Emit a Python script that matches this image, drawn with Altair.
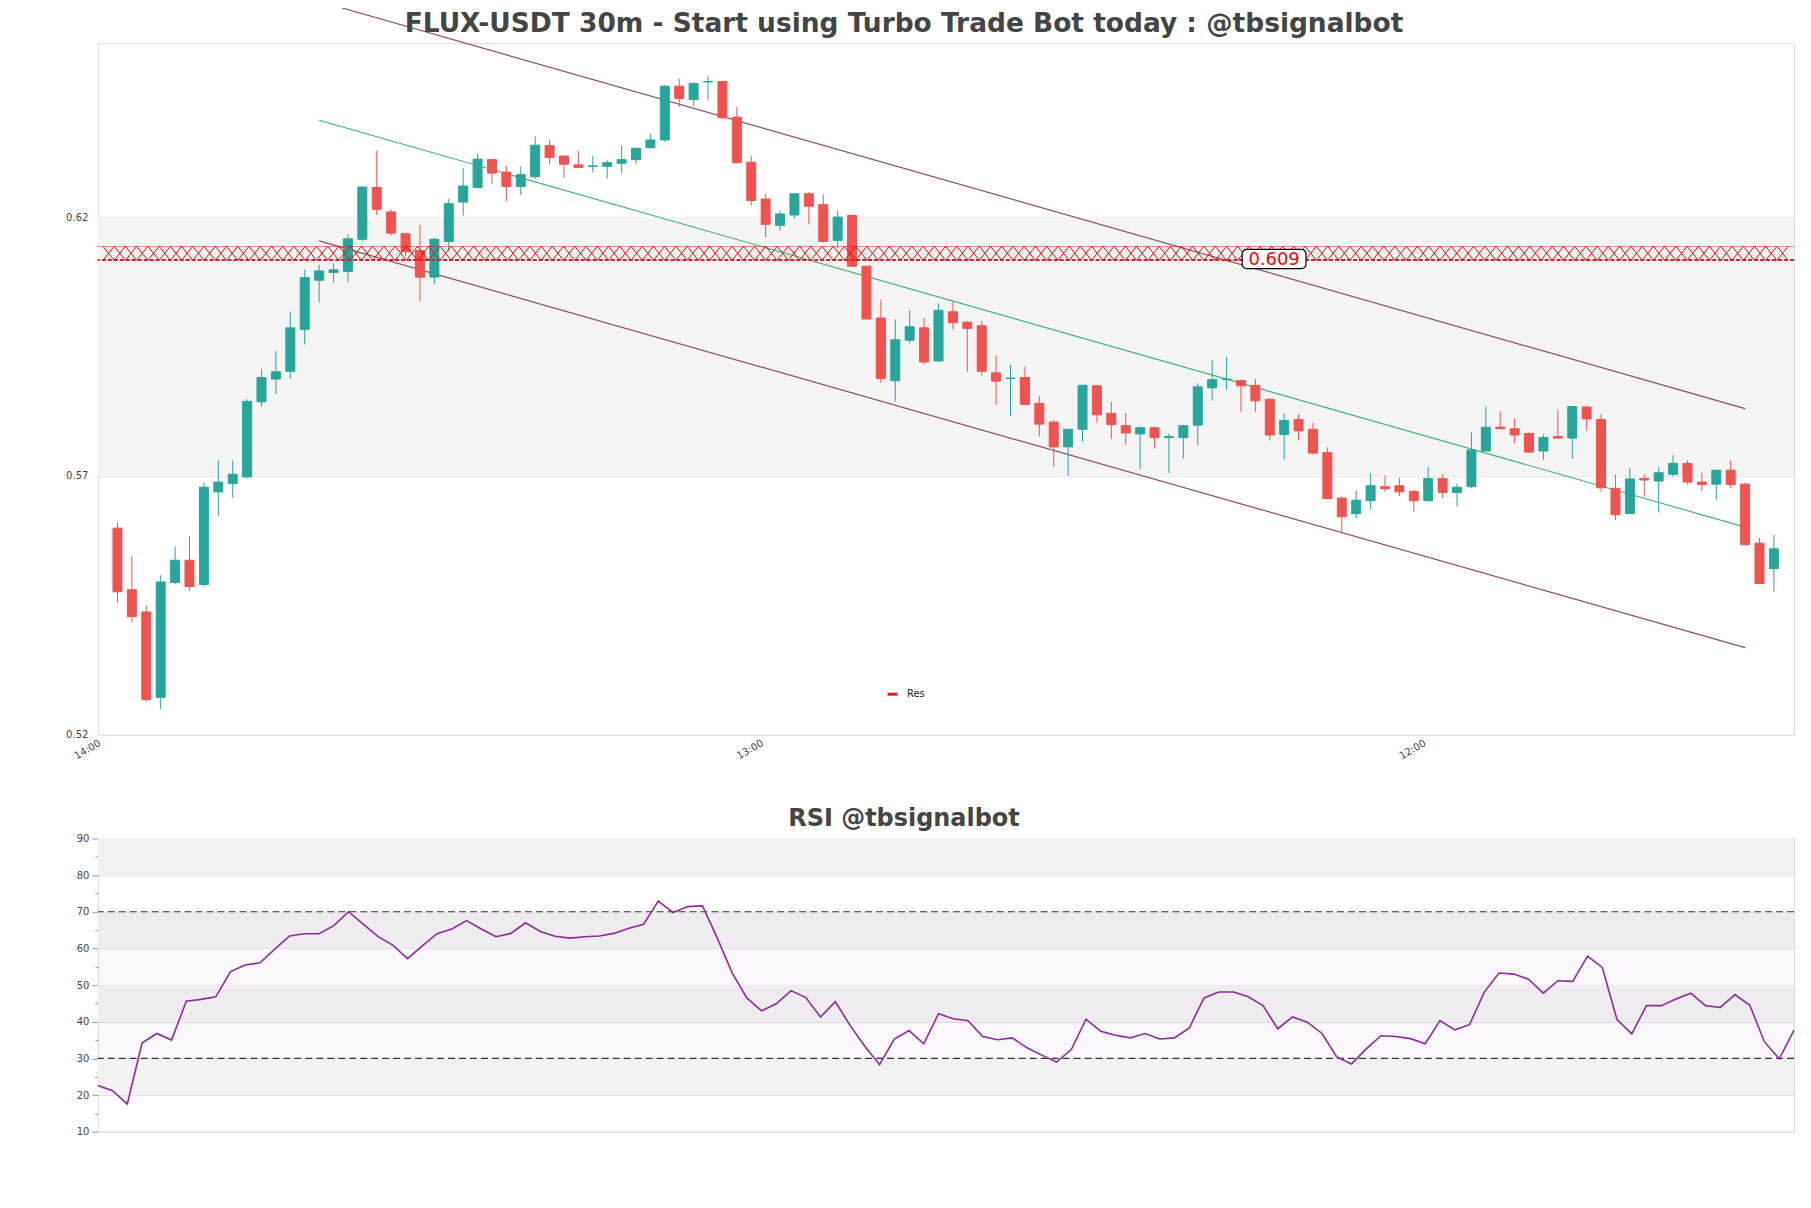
import altair as alt
import numpy as np
import pandas as pd

# ---------------- data ----------------
open_ = [0.5599, 0.5480, 0.5437, 0.5272, 0.5494, 0.5537, 0.5490, 0.5669, 0.5685, 0.5698,
         0.5843, 0.5887, 0.5902, 0.5983, 0.6078, 0.6093, 0.6095, 0.6157, 0.6257, 0.6210,
         0.6168, 0.6135, 0.6084, 0.6153, 0.6229, 0.6257, 0.6311, 0.6287, 0.6259, 0.6278,
         0.6338, 0.6318, 0.6301, 0.6298, 0.6298, 0.6304, 0.6311, 0.6334, 0.6349, 0.6453,
         0.6427, 0.6461, 0.6462, 0.6393, 0.6306, 0.6235, 0.6184, 0.6204, 0.6245, 0.6224,
         0.6155, 0.6203, 0.6105, 0.6005, 0.5884, 0.5962, 0.5986, 0.5922, 0.6017, 0.5997,
         0.5990, 0.5899, 0.5888, 0.5890, 0.5840, 0.5804, 0.5756, 0.5790, 0.5874, 0.5821,
         0.5797, 0.5781, 0.5793, 0.5774, 0.5774, 0.5798, 0.5870, 0.5886, 0.5884, 0.5875,
         0.5848, 0.5780, 0.5809, 0.5790, 0.5745, 0.5657, 0.5627, 0.5652, 0.5679, 0.5681,
         0.5670, 0.5652, 0.5695, 0.5668, 0.5679, 0.5748, 0.5794, 0.5791, 0.5782, 0.5748,
         0.5776, 0.5773, 0.5833, 0.5809, 0.5676, 0.5627, 0.5695, 0.5690, 0.5703, 0.5724,
         0.5688, 0.5684, 0.5711, 0.5684, 0.5570, 0.5521]
high = [0.5610, 0.5545, 0.5449, 0.5508, 0.5564, 0.5584, 0.5687, 0.5730, 0.5730, 0.5848,
        0.5906, 0.5941, 0.6017, 0.6098, 0.6108, 0.6111, 0.6167, 0.6260, 0.6328, 0.6215,
        0.6170, 0.6185, 0.6160, 0.6235, 0.6295, 0.6322, 0.6312, 0.6299, 0.6298, 0.6356,
        0.6349, 0.6318, 0.6328, 0.6318, 0.6310, 0.6339, 0.6334, 0.6361, 0.6455, 0.6467,
        0.6460, 0.6472, 0.6463, 0.6413, 0.6319, 0.6245, 0.6213, 0.6246, 0.6248, 0.6244,
        0.6212, 0.6205, 0.6106, 0.6041, 0.6002, 0.6020, 0.6005, 0.6033, 0.6036, 0.5999,
        0.5999, 0.5933, 0.5915, 0.5911, 0.5854, 0.5808, 0.5790, 0.5875, 0.5875, 0.5843,
        0.5821, 0.5795, 0.5795, 0.5782, 0.5798, 0.5879, 0.5924, 0.5930, 0.5886, 0.5888,
        0.5849, 0.5820, 0.5819, 0.5803, 0.5755, 0.5660, 0.5672, 0.5705, 0.5701, 0.5696,
        0.5673, 0.5717, 0.5703, 0.5685, 0.5784, 0.5834, 0.5825, 0.5811, 0.5784, 0.5780,
        0.5827, 0.5834, 0.5836, 0.5819, 0.5703, 0.5715, 0.5703, 0.5717, 0.5740, 0.5730,
        0.5706, 0.5711, 0.5730, 0.5687, 0.5580, 0.5586]
low = [0.5455, 0.5417, 0.5264, 0.5249, 0.5490, 0.5478, 0.5486, 0.5623, 0.5658, 0.5695,
       0.5834, 0.5858, 0.5888, 0.5954, 0.6035, 0.6074, 0.6074, 0.6154, 0.6204, 0.6164,
       0.6124, 0.6037, 0.6070, 0.6133, 0.6203, 0.6256, 0.6264, 0.6231, 0.6243, 0.6274,
       0.6302, 0.6276, 0.6296, 0.6286, 0.6275, 0.6285, 0.6302, 0.6333, 0.6346, 0.6413,
       0.6415, 0.6425, 0.6390, 0.6304, 0.6222, 0.6161, 0.6174, 0.6198, 0.6186, 0.6151,
       0.6139, 0.6104, 0.6003, 0.5880, 0.5843, 0.5956, 0.5915, 0.5922, 0.5983, 0.5901,
       0.5894, 0.5837, 0.5816, 0.5837, 0.5776, 0.5718, 0.5700, 0.5766, 0.5803, 0.5771,
       0.5760, 0.5713, 0.5753, 0.5706, 0.5734, 0.5759, 0.5846, 0.5866, 0.5823, 0.5823,
       0.5769, 0.5731, 0.5769, 0.5742, 0.5656, 0.5592, 0.5618, 0.5636, 0.5669, 0.5661,
       0.5631, 0.5650, 0.5657, 0.5641, 0.5676, 0.5748, 0.5791, 0.5763, 0.5745, 0.5731,
       0.5773, 0.5733, 0.5787, 0.5669, 0.5615, 0.5627, 0.5660, 0.5629, 0.5699, 0.5683,
       0.5671, 0.5654, 0.5676, 0.5567, 0.5492, 0.5476]
close = [0.5476, 0.5428, 0.5268, 0.5495, 0.5537, 0.5486, 0.5678, 0.5688, 0.5703, 0.5844,
         0.5890, 0.5901, 0.5986, 0.6083, 0.6096, 0.6098, 0.6158, 0.6258, 0.6215, 0.6169,
         0.6133, 0.6084, 0.6157, 0.6226, 0.6260, 0.6312, 0.6285, 0.6259, 0.6282, 0.6339,
         0.6315, 0.6302, 0.6296, 0.6299, 0.6305, 0.6311, 0.6333, 0.6349, 0.6453, 0.6429,
         0.6458, 0.6462, 0.6392, 0.6305, 0.6232, 0.6186, 0.6206, 0.6245, 0.6221, 0.6153,
         0.6200, 0.6105, 0.6003, 0.5888, 0.5963, 0.5988, 0.5920, 0.6020, 0.5996, 0.5985,
         0.5902, 0.5883, 0.5889, 0.5838, 0.5800, 0.5756, 0.5790, 0.5875, 0.5818, 0.5799,
         0.5783, 0.5793, 0.5774, 0.5776, 0.5797, 0.5872, 0.5886, 0.5887, 0.5874, 0.5845,
         0.5779, 0.5807, 0.5787, 0.5744, 0.5656, 0.5621, 0.5653, 0.5681, 0.5675, 0.5669,
         0.5652, 0.5695, 0.5668, 0.5678, 0.5750, 0.5794, 0.5791, 0.5779, 0.5746, 0.5774,
         0.5773, 0.5834, 0.5810, 0.5677, 0.5625, 0.5694, 0.5692, 0.5706, 0.5724, 0.5688,
         0.5683, 0.5711, 0.5683, 0.5567, 0.5492, 0.5559]

rsi = [22.6, 21.2, 17.6, 34.2, 36.8, 35.0, 45.6, 46.1, 46.8, 53.7,
       55.5, 56.1, 59.8, 63.4, 64.0, 64.0, 66.2, 70.0, 66.6, 63.2,
       60.9, 57.2, 60.7, 64.0, 65.3, 67.6, 65.3, 63.2, 64.1, 67.0,
       64.6, 63.3, 62.8, 63.2, 63.4, 64.1, 65.5, 66.6, 72.9, 69.8,
       71.4, 71.6, 62.8, 53.4, 46.5, 43.0, 44.9, 48.5, 46.6, 41.3,
       45.5, 39.0, 33.3, 28.3, 35.3, 37.6, 34.0, 42.2, 40.8, 40.3,
       36.0, 35.1, 35.6, 32.9, 30.9, 29.0, 32.4, 40.7, 37.4, 36.3,
       35.6, 36.8, 35.3, 35.6, 38.3, 46.5, 48.1, 48.1, 46.8, 44.4,
       38.1, 41.3, 39.9, 36.8, 30.4, 28.5, 32.6, 36.2, 36.0, 35.4,
       34.0, 40.3, 37.8, 39.2, 48.1, 53.3, 53.0, 51.6, 47.8, 51.2,
       51.0, 57.9, 54.8, 40.6, 36.7, 44.4, 44.4, 46.2, 47.8, 44.4,
       43.9, 47.4, 44.5, 34.5, 29.9, 37.7]

time_tick_pos = [-1, 45, 91]
time_tick_lbl = ["14:00", "13:00", "12:00"]
price_ticks = [0.52, 0.57, 0.62]

# channel lines: (start index, start price, end index, end price)
ch_names = ["upper", "mid", "lower"]
ch_i0 = [15.6, 14, 14]
ch_p0 = [0.6604, 0.6387, 0.6154]
ch_i1 = [113, 113, 113]
ch_p1 = [0.5830, 0.5601, 0.5368]

res_name = "Res"
res_top, res_mid, res_line = 0.6143, 0.6130, 0.6117
res_text = "0.609"
res_label_i, res_label_p = 80.3, 0.6119

rsi_gray_lo = [80, 60, 40, 20]
rsi_gray_hi = [90, 70, 50, 30]
rsi_levels = [30, 70]

# ---------------- styling ----------------
GREEN = "#26a69a"
RED = "#ef5350"
CH_COLOR = "#8f4d63"
MID_COLOR = "#3cb371"
RSI_COLOR = "#8e2a9e"
FONT = "DejaVu Sans"
TXT = "#444444"

N = len(close)
df = pd.DataFrame({"i": np.arange(N), "open": open_, "high": high, "low": low, "close": close})

xdom = [-1.02, 116.05]
ydom = [0.52, 0.6536]
xs = alt.Scale(domain=xdom, nice=False, zero=False)
ys = alt.Scale(domain=ydom, nice=False, zero=False)

lbl_expr = " : ".join(
    f"datum.value == {p} ? '{l}'" for p, l in zip(time_tick_pos, time_tick_lbl)
) + " : ''"
xaxis = alt.Axis(values=time_tick_pos, labelExpr=lbl_expr, labelAngle=-30, tickSize=0,
                 labelPadding=3, labelOffset=-6, grid=False, domain=False, title=None,
                 labelFlush=False, labelOverlap=False, labelFontSize=10,
                 labelFont=FONT, labelColor=TXT)
yaxis = alt.Axis(values=price_ticks, format=".2f", tickSize=7, tickColor="transparent",
                 labelPadding=3, grid=True, gridColor="#e2e2e2", domain=False,
                 title=None, labelFontSize=10, labelFont=FONT, labelColor=TXT)

X = lambda f: alt.X(f, scale=xs, axis=xaxis)
Y = lambda f: alt.Y(f, scale=ys, axis=yaxis)

# background band 0.57-0.62
band_df = pd.DataFrame({"lo": [price_ticks[1]], "hi": [price_ticks[2]]})
band = alt.Chart(band_df).mark_rect(color="#f4f4f4").encode(y=Y("lo:Q"), y2="hi:Q")

cond_col = alt.condition("datum.close >= datum.open", alt.value(GREEN), alt.value(RED))
wicks = alt.Chart(df).mark_rule(strokeWidth=1).encode(
    x=X("i:Q"), y=Y("low:Q"), y2="high:Q", color=cond_col)
bodies = alt.Chart(df).mark_bar(size=9, strokeWidth=1).encode(
    x=X("i:Q"), y=Y("open:Q"), y2="close:Q", color=cond_col, stroke=cond_col)

ch_rows = []
for n, a, b, c, d in zip(ch_names, ch_i0, ch_p0, ch_i1, ch_p1):
    ch_rows.append({"line": n, "i": a, "p": b})
    ch_rows.append({"line": n, "i": c, "p": d})
ch_df = pd.DataFrame(ch_rows)
outer = alt.Chart(ch_df[ch_df.line != "mid"]).mark_line(color=CH_COLOR, strokeWidth=1.2).encode(
    x=X("i:Q"), y=Y("p:Q"), detail="line:N")
mid = alt.Chart(ch_df[ch_df.line == "mid"]).mark_line(color=MID_COLOR, strokeWidth=1.1).encode(
    x=X("i:Q"), y=Y("p:Q"))

# resistance zone: hatched band + dashed level (legend "Res")
hatch_df = pd.DataFrame({"i": np.arange(xdom[0] + 0.4, xdom[1] - 0.3, 0.78), "p": res_mid})
XPATH = "M-0.8,-1L0.8,1M-0.8,1L0.8,-1"
hatch = alt.Chart(hatch_df).mark_point(shape=XPATH, size=196, filled=False, color="red",
                                       strokeWidth=1.0, opacity=1).encode(x=X("i:Q"), y=Y("p:Q"))
res_df = pd.DataFrame({"p": [res_line], "name": [res_name]})
res_rule = alt.Chart(res_df).mark_rule(strokeWidth=2, strokeDash=[4, 2]).encode(
    y=Y("p:Q"),
    color=alt.Color("name:N", scale=alt.Scale(domain=[res_name], range=["#d62028"]),
                    legend=alt.Legend(orient="none", legendX=790, legendY=646, title=None,
                                      symbolType="stroke", symbolStrokeWidth=3, symbolSize=100,
                                      labelFontSize=10, labelFont=FONT, labelColor="#222",
                                      padding=0, labelOffset=8)))
top_df = pd.DataFrame({"p": [res_top]})
res_top_rule = alt.Chart(top_df).mark_rule(strokeWidth=0.8, color="red", opacity=0.6).encode(y=Y("p:Q"))

lab_df = pd.DataFrame({"i": [res_label_i], "p": [res_label_p], "t": [res_text]})
BOX = ("M-0.84,-0.3L0.84,-0.3Q1,-0.3 1,-0.14L1,0.14Q1,0.3 0.84,0.3L-0.84,0.3"
       "Q-1,0.3 -1,0.14L-1,-0.14Q-1,-0.3 -0.84,-0.3Z")
lab_box = alt.Chart(lab_df).mark_point(shape=BOX, size=4096, filled=True, fill="white",
                                       stroke="black", strokeWidth=1.2, opacity=1).encode(
    x=X("i:Q"), y=Y("p:Q"))
lab_txt = alt.Chart(lab_df).mark_text(fontSize=18, font=FONT, color="red", dy=1).encode(
    x=X("i:Q"), y=Y("p:Q"), text="t:N")

main = alt.layer(band, outer, mid, wicks, bodies, hatch, res_top_rule, res_rule, lab_box, lab_txt).properties(
    width=1700, height=693,
    title=alt.TitleParams("FLUX-USDT 30m - Start using Turbo Trade Bot today : @tbsignalbot",
                          fontSize=26.5, font=FONT, fontWeight="bold", color=TXT,
                          anchor="middle", frame="group", offset=-53, baseline="alphabetic", dx=-42))

# ---------------- RSI panel ----------------
rsi_df = pd.DataFrame({"i": np.arange(N), "rsi": rsi})
rx = alt.Scale(domain=[0, N - 1], nice=False, zero=False)
ry = alt.Scale(domain=[10, 90], nice=False, zero=False)
rmain_axis = alt.Axis(values=list(range(10, 91, 10)), tickSize=6, tickColor="#999",
                      labelPadding=3, grid=True, gridColor="#dedede", domain=False,
                      title=None, labelFontSize=10, labelFont=FONT, labelColor=TXT, orient="left")
rminor_axis = alt.Axis(values=list(range(15, 90, 10)), tickSize=3, tickColor="#999",
                       labels=False, grid=False, domain=False, title=None, orient="left")

rb_df = pd.DataFrame({"lo": rsi_gray_lo, "hi": rsi_gray_hi})
rbands = alt.Chart(rb_df).mark_rect(color="#f2f2f2").encode(
    y=alt.Y("lo:Q", scale=ry, axis=rmain_axis), y2="hi:Q")
tint_df = pd.DataFrame({"lo": [rsi_levels[0]], "hi": [rsi_levels[1]]})
tint = alt.Chart(tint_df).mark_rect(color="#b9a3cc", opacity=0.08).encode(
    y=alt.Y("lo:Q", scale=ry, axis=None), y2="hi:Q")
lv_df = pd.DataFrame({"v": rsi_levels})
levels = alt.Chart(lv_df).mark_rule(color="#333333", strokeWidth=1.2, strokeDash=[7, 4]).encode(
    y=alt.Y("v:Q", scale=ry, axis=None))
rline = alt.Chart(rsi_df).mark_line(color=RSI_COLOR, strokeWidth=1.6).encode(
    x=alt.X("i:Q", scale=rx, axis=None), y=alt.Y("rsi:Q", scale=ry, axis=None))
minor_df = pd.DataFrame({"v": list(range(15, 90, 10))})
minor = alt.Chart(minor_df).mark_rule(opacity=0).encode(
    y=alt.Y("v:Q", scale=ry, axis=rminor_axis))

rsi_chart = alt.layer(rbands, tint, levels, rline, minor).resolve_axis(y="independent").properties(
    width=1700, height=294,
    title=alt.TitleParams("RSI @tbsignalbot", fontSize=24, font=FONT, fontWeight="bold",
                          color=TXT, anchor="middle", frame="group", offset=-17,
                          baseline="alphabetic", dx=-42))

chart = alt.vconcat(main, rsi_chart, spacing=104, bounds="flush").resolve_legend(
    color="independent").properties(
    padding={"left": 57, "top": -5, "right": 5, "bottom": 5}
).configure_view(stroke="#dcdcdc", strokeWidth=1)

chart.save("out.html", embed_options={"renderer": "svg", "actions": False})
